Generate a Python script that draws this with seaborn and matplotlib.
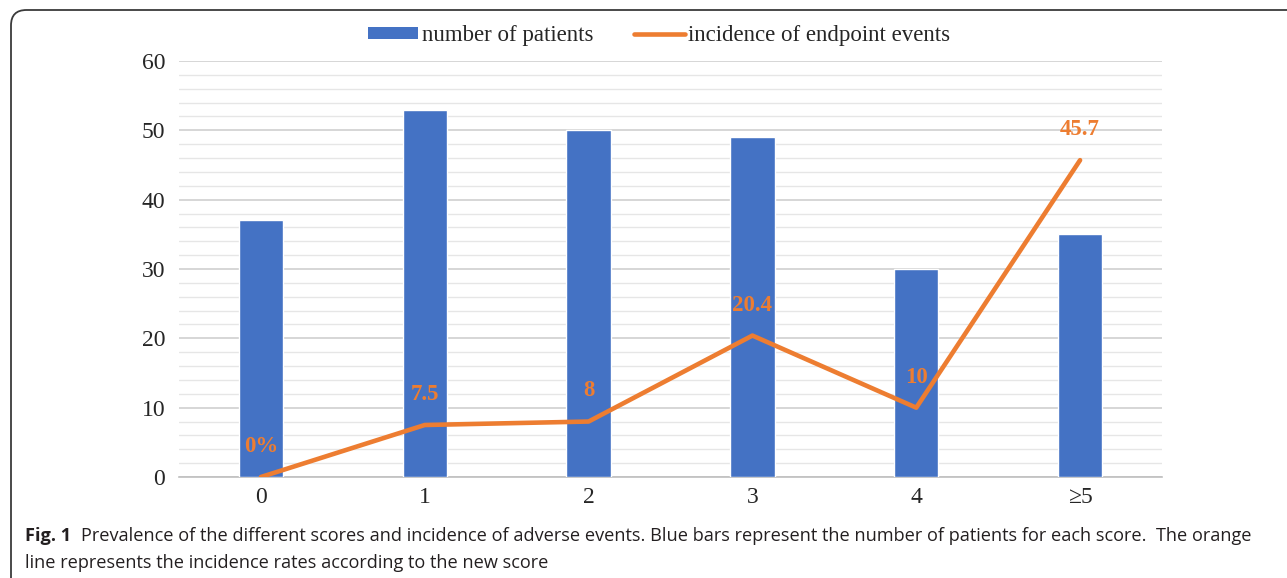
import numpy as np
import pandas as pd
import matplotlib
matplotlib.use("Agg")
import matplotlib.pyplot as plt
from matplotlib.patches import FancyBboxPatch, Patch
from matplotlib.lines import Line2D
from matplotlib.ticker import MultipleLocator
import seaborn as sns

# Data
scores = ["0", "1", "2", "3", "4", "\u22655"]
patients = [37, 53, 50, 49, 30, 35]
incidence = [0, 7.5, 8, 20.4, 10, 45.7]
incidence_labels = ["0%", "7.5", "8", "20.4", "10", "45.7"]

BLUE = "#4472C4"
ORANGE = "#ED7D31"
SERIF = ["Liberation Serif", "DejaVu Serif"]

sns.set_theme(style="white")
plt.rcParams["font.family"] = ["Liberation Serif", "DejaVu Sans"]

df = pd.DataFrame({"score": scores, "patients": patients})

fig = plt.figure(figsize=(12.87, 5.78), dpi=100)
ax = fig.add_axes([179 / 1287, 1 - 477 / 578, (1162 - 179) / 1287, (477 - 61) / 578])

sns.barplot(data=df, x="score", y="patients", color=BLUE, saturation=1,
            width=0.27, ax=ax, zorder=3)

xpos = np.arange(len(scores))
sns.lineplot(x=xpos, y=incidence, color=ORANGE, linewidth=3.3, ax=ax,
             zorder=4, solid_capstyle="round", solid_joinstyle="round")

for x, y, lab in zip(xpos, incidence, incidence_labels):
    ax.annotate(lab, (x, y), xytext=(0, 22), textcoords="offset points",
                ha="center", va="center", color=ORANGE, fontsize=16.5,
                fontweight="bold", family=SERIF, zorder=5)

ax.set_xlim(-0.5, len(scores) - 0.5)
ax.set_ylim(0, 60)
ax.yaxis.set_major_locator(MultipleLocator(10))
ax.yaxis.set_minor_locator(MultipleLocator(2))
ax.grid(which="major", axis="y", color="#d0d0d0", linewidth=1.2, zorder=0)
ax.grid(which="minor", axis="y", color="#e6e6e6", linewidth=1.0, zorder=0)
ax.set_axisbelow(True)

ax.set_xticks(xpos)
ax.set_xticklabels(scores)
ax.set_xticks(np.arange(len(scores) + 1) - 0.5, minor=True)
ax.tick_params(axis="x", which="major", length=0, pad=7, labelsize=17)
ax.tick_params(axis="x", which="minor", length=6, width=1, color="#bfbfbf",
               direction="out")
ax.tick_params(axis="y", which="both", length=0, pad=10, labelsize=17)
ax.set_xlabel("")
ax.set_ylabel("")

for side in ("left", "right", "top"):
    ax.spines[side].set_visible(False)
ax.spines["bottom"].set_color("#bfbfbf")
ax.spines["bottom"].set_linewidth(1.2)
ax.spines["bottom"].set_zorder(2)

handles = [Patch(facecolor=BLUE, edgecolor="none"),
           Line2D([0], [0], color=ORANGE, linewidth=3.3)]
fig.legend(handles, ["number of patients", "incidence of endpoint events"],
           loc="center", bbox_to_anchor=(659 / 1287, 1 - 36 / 578), ncol=2,
           frameon=False, prop={"family": SERIF, "size": 16.5},
           handlelength=2.2, handleheight=0.45, handletextpad=0.15,
           columnspacing=1.8)

# Rounded frame around the figure panel
frame = FancyBboxPatch((11 / 1287, -0.2), 1.3, 1 - 10 / 578 + 0.2,
                       boxstyle="round,pad=0,rounding_size=0.012",
                       transform=fig.transFigure, facecolor="none",
                       edgecolor="#3a3a3a", linewidth=1.3,
                       mutation_aspect=1287 / 578)
fig.patches.append(frame)

# Caption
cap_family = ["Open Sans", "DejaVu Sans"]
cap_size = 13.1
fig.canvas.draw()
renderer = fig.canvas.get_renderer()
t_bold = fig.text(25 / 1287, 1 - 536 / 578, "Fig. 1", fontsize=cap_size,
                  fontweight="bold", family=cap_family, color="#231f20",
                  va="center", ha="left")
bb = t_bold.get_window_extent(renderer=renderer)
fig.text((bb.x1 + 10) / 1287, 1 - 536 / 578,
         "Prevalence of the different scores and incidence of adverse events. "
         "Blue bars represent the number of patients for each score.  The orange",
         fontsize=cap_size, family=cap_family, color="#231f20",
         va="center", ha="left")
fig.text(25 / 1287, 1 - 563 / 578,
         "line represents the incidence rates according to the new score",
         fontsize=cap_size, family=cap_family, color="#231f20",
         va="center", ha="left")

fig.savefig("out.png", dpi=100)
